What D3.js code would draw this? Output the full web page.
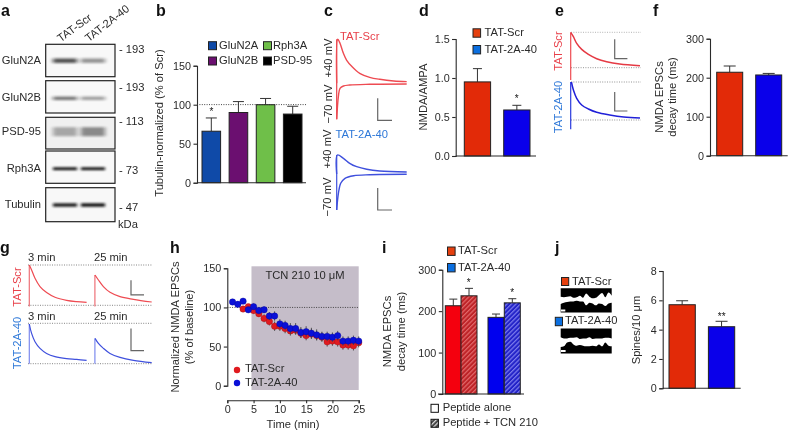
<!DOCTYPE html>
<html>
<head>
<meta charset="utf-8">
<script src="https://cdn.jsdelivr.net/npm/d3@7/dist/d3.min.js"></script>
<style>
html, body { margin: 0; padding: 0; background: #fff; }
svg { display: block; filter: blur(0.3px); }
text { font-family: "Liberation Sans", Arial, sans-serif; fill: #2a2a2a; font-size: 11.2px; }
.letter { font-weight: bold; font-size: 16px; fill: #111; }
.axis path, .axis line { stroke: #2a2a2a; stroke-width: 1.1; shape-rendering: auto; }
.axis text { font-size: 10.8px; fill: #2a2a2a; }
</style>
</head>
<body>
<svg id="fig" width="788" height="432"></svg>
<script>
// panel a
var blotRows = ["GluN2A", "GluN2B", "PSD-95", "Rph3A", "Tubulin"];
var blotMarkers = ["193", "193", "113", "73", "47"];
var blotLanes = ["TAT-Scr", "TAT-2A-40"];
var bandDarkness = [[0.7, 0.42], [0.55, 0.38], [0.32, 0.45], [1, 1], [0.95, 1]];
// panel b
var bCats = ["GluN2A", "GluN2B", "Rph3A", "PSD-95"];
var bValues = [66, 90, 100, 88];
var bErrTop = [83, 104, 108, 98];
var bTicks = [0, 50, 100, 150];
// panel d
var groups = ["TAT-Scr", "TAT-2A-40"];
var dValues = [0.95, 0.59];
var dErrTop = [1.12, 0.65];
var dTicks = [0, 0.5, 1.0, 1.5];
// panel f
var fValues = [214, 207];
var fErrTop = [230, 211];
var fTicks = [0, 100, 200, 300];
// panel c traces (time, amplitude)
var cUpTime = [0, 1, 3.3, 6.7, 10, 15, 23, 33, 43, 57, 70];
var cScrUp = [0, 44, 40, 30, 23, 17, 10, 6, 4, 2.3, 1.7];
var cDownTime = [0, 1.7, 3.3, 6.7, 13, 33, 70];
var cScrDown = [-36, -13, -5, -2.7, -1.7, -1, -0.7];
var cBlueUpTime = [0, 0.7, 6.7, 13, 20, 30, 43, 70];
var cBlueUp = [0, 19, 15.7, 10.7, 7.3, 4.7, 3, 2];
var cBlueDownTime = [0, 1.7, 4, 8.3, 17, 33, 70];
var cBlueDown = [-36, -19.3, -9.3, -4.3, -1.7, -0.7, -0.3];
// panel e traces
var eScrTime = [0, 2.7, 6, 11, 17.7, 26, 36, 49, 69.3];
var eScr = [35.3, 31, 24.3, 18.3, 13.3, 9, 6, 3.7, 2];
var eBlueTime = [0.7, 2.7, 6, 11, 17.7, 26, 39, 53, 69.3];
var eBlue = [38, 30, 21.7, 15, 11, 7.7, 5, 3, 2];
// panel g traces
var g3Time = [0, 2.3, 5.7, 10.7, 17.3, 25.7, 37.3, 47.3, 57.3];
var g25Time = [0.3, 3.7, 8.7, 15.3, 25.3, 38.7, 57];
var gScr3 = [40.3, 35.3, 27, 18.7, 12.7, 8, 5, 3.7, 3];
var gScr25 = [30.3, 25.3, 18.7, 13, 8.7, 6, 3.3];
var gBlue3 = [39.7, 30.3, 22, 15.3, 10.3, 7, 5, 4.3, 3.3];
var gBlue25 = [25.3, 20.3, 15.3, 10.3, 6.3, 3.3, 1];
// panel h
var hTimeScr = [3, 4, 5, 6, 7, 8, 9, 10, 11, 12, 13, 14, 15, 16, 17, 18, 19, 20, 21, 22, 23, 24, 25];
var hScr = [98, 101, 96, 92, 86, 82, 76, 76, 73, 70, 71, 67, 64, 66, 64, 62, 56, 57, 56, 52, 52, 51, 55];
var hScrErr = [3, 3, 4, 4, 5, 5, 6, 6, 6, 6, 6, 6, 6, 6, 6, 6, 6, 6, 6, 6, 6, 6, 6];
var hTimeBlue = [1, 2, 3, 4, 5, 6, 7, 8, 9, 10, 11, 12, 13, 14, 15, 16, 17, 18, 19, 20, 21, 22, 23, 24, 25];
var hBlue = [107, 104, 108, 97, 101, 96, 97, 89, 89, 79, 77, 73, 73, 68, 69, 67, 65, 63, 63, 62, 64, 57, 57, 58, 57];
var hBlueErr = [2, 3, 2, 3, 4, 4, 4, 5, 6, 6, 6, 7, 7, 7, 7, 7, 7, 6, 6, 6, 6, 6, 6, 6, 6];
var hYTicks = [0, 50, 100, 150];
var hXTicks = [0, 5, 10, 15, 20, 25];
// panel i
var iCats = ["Scr alone", "Scr TCN", "2A alone", "2A TCN"];
var iValues = [213, 237, 185, 220];
var iErrTop = [229, 255, 193, 230];
var iTicks = [0, 100, 200, 300];
// panel j
var jValues = [5.7, 4.2];
var jErrTop = [5.97, 4.57];
var jTicks = [0, 2, 4, 6, 8];
var spinePos = [0, 1, 2, 3, 4, 5, 6, 7, 8, 9, 10, 11, 12, 13, 14, 15, 16];
var strip1Low = [0.8, 0.85, 0.8, 0.75, 0.9, 0.85, 0.7, 0.9, 0.5, 0.8, 0.95, 0.9, 0.65, 0.45, 0.85, 0.4, 0.7];
var strip2Top = [0.35, 0.25, 0.2, 0.15, 0.15, 0.1, 0.15, 0.15, 0.45, 0.25, 0.3, 0.45, 0.3, 0.35, 0.5, 0.3, 0.25];
var strip3Low = [0.8, 0.9, 0.9, 0.85, 0.85, 0.8, 0.95, 0.9, 0.9, 0.8, 0.95, 0.9, 0.9, 0.9, 0.85, 0.85, 0.9];
var strip4Top = [0.5, 0.45, 0.15, 0.1, 0.3, 0.4, 0.35, 0.4, 0.45, 0.45, 0.4, 0.45, 0.3, 0.45, 0.15, 0.4, 0.45];

var RED = "#e22a08", BLUE = "#0a00ea", DARK = "#2a2a2a";
var TRED = "#ee4b52", TBLUE = "#3f50dd", LRED = "#e8404a", LBLUE = "#2e78d8";
var SWRED = "#e5400f", SWBLUE = "#0b6fe0";

var svg = d3.select("#fig");
var defs = svg.append("defs");
defs.append("filter").attr("id", "soft").attr("x", "-30%").attr("y", "-200%").attr("width", "160%").attr("height", "500%")
	.append("feGaussianBlur").attr("stdDeviation", "2 1.3");
defs.append("filter").attr("id", "sharp").attr("x", "-30%").attr("y", "-200%").attr("width", "160%").attr("height", "500%")
	.append("feGaussianBlur").attr("stdDeviation", "1.6 0.8");
defs.append("filter").attr("id", "tiny").append("feGaussianBlur").attr("stdDeviation", 0.35);

function hatch(id, bg, fg) {
	var p = defs.append("pattern").attr("id", id).attr("width", 3.2).attr("height", 3.2)
		.attr("patternUnits", "userSpaceOnUse").attr("patternTransform", "rotate(45)");
	p.append("rect").attr("width", 3.2).attr("height", 3.2).attr("fill", bg);
	p.append("rect").attr("width", 1.2).attr("height", 3.2).attr("fill", fg);
}
hatch("hatchRed", "#bd2226", "#e2686a");
hatch("hatchBlue", "#2222c8", "#7c7cec");
hatch("hatchGrey", "#444", "#ddd");

function label(x, y, str, opts) {
	opts = opts || {};
	var t = svg.append("text").attr("x", x).attr("y", y).text(str)
		.attr("dominant-baseline", "middle")
		.attr("text-anchor", opts.anchor || "start");
	if (opts.color) t.style("fill", opts.color);
	if (opts.size) t.style("font-size", opts.size + "px");
	if (opts.rotate != null) t.attr("transform", "rotate(" + opts.rotate + " " + x + " " + y + ")");
	return t;
}
function vlabel(x, y, str, opts) {
	opts = opts || {};
	opts.anchor = "middle";
	opts.rotate = -90;
	return label(x, y, str, opts);
}
function swatch(x, y, w, h, fill, stroke) {
	svg.append("rect").attr("x", x).attr("y", y).attr("width", w).attr("height", h)
		.attr("fill", fill).attr("stroke", stroke || "#222").attr("stroke-width", 1);
}

// one bar chart: ticks, bars, error caps, baseline
function barChart(o) {
	var y = d3.scaleLinear().domain(o.domain).range([o.y0, o.y1]);
	var step = (o.barsEnd - o.barsStart - o.barW) / (o.cats.length - 1);
	var x = d3.scaleBand().domain(o.cats).range([o.barsStart, o.barsEnd])
		.paddingInner(1 - o.barW / step).paddingOuter(0);
	var g = svg.append("g");
	var rows = o.cats.map(function(c, i) { return { c: c, v: o.values[i], e: o.err[i], f: o.fills[i] }; });
	g.selectAll("line.stem").data(rows).enter().append("line")
		.attr("x1", function(d) { return x(d.c) + x.bandwidth() / 2; })
		.attr("x2", function(d) { return x(d.c) + x.bandwidth() / 2; })
		.attr("y1", function(d) { return y(d.v); })
		.attr("y2", function(d) { return y(d.e); })
		.attr("stroke", "#333").attr("stroke-width", 1);
	g.selectAll("line.cap").data(rows).enter().append("line")
		.attr("x1", function(d) { return x(d.c) + x.bandwidth() / 2 - o.cap; })
		.attr("x2", function(d) { return x(d.c) + x.bandwidth() / 2 + o.cap; })
		.attr("y1", function(d) { return y(d.e); })
		.attr("y2", function(d) { return y(d.e); })
		.attr("stroke", "#333").attr("stroke-width", 1);
	g.selectAll("rect").data(rows).enter().append("rect")
		.attr("x", function(d) { return x(d.c); })
		.attr("width", x.bandwidth())
		.attr("y", function(d) { return y(d.v); })
		.attr("height", function(d) { return o.y0 - y(d.v); })
		.attr("fill", function(d) { return d.f; })
		.attr("stroke", "#222").attr("stroke-width", 1);
	var axis = d3.axisLeft(y).tickValues(o.ticks).tickSize(3.5).tickPadding(2.5);
	if (o.format) axis.tickFormat(o.format);
	svg.append("g").attr("class", "axis").attr("transform", "translate(" + o.axisX + ",0)").call(axis);
	svg.append("line").attr("x1", o.axisX).attr("x2", o.axisEnd).attr("y1", o.y0).attr("y2", o.y0)
		.attr("stroke", DARK).attr("stroke-width", 1.1);
	return { x: x, y: y };
}

function star(x, y, s) {
	var t = label(x, y, s || "*", { anchor: "middle", size: 10 });
	t.style("fill", "#111");
}

// electrophysiology trace with its stimulus artefact
var traceLine = d3.line().curve(d3.curveCatmullRom.alpha(0.5));
function trace(xs, ys, time, vals, color, w) {
	svg.append("path").datum(time.map(function(t, i) { return [xs(t), ys(vals[i])]; }))
		.attr("d", traceLine).attr("fill", "none").attr("stroke", color)
		.attr("stroke-width", w || 1.4).attr("stroke-linejoin", "round");
}
function stim(xs, ys, t, v0, v1, color) {
	svg.append("line").attr("x1", xs(t)).attr("x2", xs(t)).attr("y1", ys(v0)).attr("y2", ys(v1))
		.attr("stroke", color).attr("stroke-width", 1.2);
}
function scaleBar(xs, ys, t, v, w, h) {
	svg.append("path").attr("fill", "none").attr("stroke", "#666").attr("stroke-width", 1.2)
		.attr("d", "M" + xs(t) + "," + ys(v + h) + "V" + ys(v) + "H" + xs(t + w));
}
function dotted(x1, x2, y, col) {
	svg.append("line").attr("x1", x1).attr("x2", x2).attr("y1", y).attr("y2", y)
		.attr("stroke", col || "#888").attr("stroke-width", 0.9).attr("stroke-dasharray", "1 1.4");
}
function tracePos(x0, base) {
	return {
		x: d3.scaleLinear().domain([0, 100]).range([x0, x0 + 100]),
		y: d3.scaleLinear().domain([0, 100]).range([base, base - 100])
	};
}

// letters
[["a", 1, 12], ["b", 156, 12], ["c", 324, 12], ["d", 419, 12], ["e", 555, 12], ["f", 653, 12],
 ["g", 0, 249], ["h", 170, 249], ["i", 382, 249], ["j", 555, 249]].forEach(function(l) {
	label(l[1], l[2], l[0]).attr("class", "letter");
});

// ---- a: blots
var boxTop = [44.3, 80.7, 117.3, 151, 187.7];
var boxBot = [76.7, 113, 149, 183.3, 221.7];
var bandY = [60.7, 98.3, 131.7, 168.7, 205];
var bandH = [4.5, 3.5, 9, 2.8, 3.4];
var markY = [50, 88, 121.7, 170.7, 208];
var labelX = d3.scaleBand().domain(blotLanes).range([53, 105]).paddingInner(0.14);
blotRows.forEach(function(r, i) {
	svg.append("rect").attr("x", 45.7).attr("y", boxTop[i]).attr("width", 69.3).attr("height", boxBot[i] - boxTop[i])
		.attr("fill", i == 2 ? "#f0f0f0" : "#f8f8f8");
	var clip = svg.append("g");
	blotLanes.forEach(function(l, j) {
		clip.append("rect").attr("x", labelX(l)).attr("width", labelX.bandwidth())
			.attr("y", bandY[i] - bandH[i] / 2).attr("height", bandH[i])
			.attr("fill", "#111").attr("opacity", bandDarkness[i][j])
			.attr("filter", i > 2 ? "url(#sharp)" : "url(#soft)");
	});
	svg.append("rect").attr("x", 45.7).attr("y", boxTop[i]).attr("width", 69.3).attr("height", boxBot[i] - boxTop[i])
		.attr("fill", "none").attr("stroke", "#222").attr("stroke-width", 1.2);
	label(41, bandY[i], r, { anchor: "end" });
	label(119, markY[i], "- " + blotMarkers[i]);
});
label(118, 225.5, "kDa");
label(59, 40, blotLanes[0], { rotate: -36 });
label(87, 40, blotLanes[1], { rotate: -38 });

// ---- b
barChart({ cats: bCats, values: bValues, err: bErrTop, fills: ["#0f4aa8", "#6b0f70", "#6fbf49", "#000"],
	domain: [0, 150], y0: 182.7, y1: 65.7, barsStart: 202, barsEnd: 302, barW: 18.6, cap: 5.5,
	axisX: 197, axisEnd: 306, ticks: bTicks });
dotted(197, 306, 104.6, "#333");
star(211.5, 112.5);
vlabel(160, 123, "Tubulin-normalized (% of Scr)");
swatch(208.5, 41.7, 8, 8, "#0f4aa8");
swatch(208.5, 57, 8, 8, "#6b0f70");
swatch(263.5, 41.7, 8, 8, "#6fbf49");
swatch(263.5, 57, 8, 8, "#000");
label(219, 45.8, "GluN2A");
label(219, 61, "GluN2B");
label(273, 45.8, "Rph3A");
label(273, 61, "PSD-95");

// ---- c
var cS = tracePos(336.7, 83.3), cB = tracePos(336.7, 174);
stim(cS.x, cS.y, 0, -36, 44, LRED);
trace(cS.x, cS.y, cUpTime, cScrUp, TRED);
trace(cS.x, cS.y, cDownTime, cScrDown, TRED);
stim(cB.x, cB.y, 0, -36, 19, TBLUE);
trace(cB.x, cB.y, cBlueUpTime, cBlueUp, TBLUE);
trace(cB.x, cB.y, cBlueDownTime, cBlueDown, TBLUE);
scaleBar(cS.x, cS.y, 41, -37, 14.3, 22);
scaleBar(cB.x, cB.y, 41, -36, 14.3, 22);
label(340, 37, "TAT-Scr", { color: LRED });
label(335.5, 135, "TAT-2A-40", { color: LBLUE });
vlabel(329, 58, "+40 mV");
vlabel(329, 104, "\u221270 mV");
vlabel(328, 149, "+40 mV");
vlabel(328, 197, "\u221270 mV");

// ---- d
barChart({ cats: groups, values: dValues, err: dErrTop, fills: [RED, BLUE],
	domain: [0, 1.5], y0: 156, y1: 39, barsStart: 464.3, barsEnd: 530, barW: 26.3, cap: 4.5,
	axisX: 455.7, axisEnd: 536, ticks: dTicks, format: d3.format(".1f") }).x;
star(516.8, 99.5);
vlabel(424, 97, "NMDA/AMPA");
swatch(473, 28.8, 7.6, 8.4, SWRED);
swatch(473, 45.5, 7.6, 8.4, SWBLUE);
label(484.5, 33.3, groups[0]);
label(484.5, 50, groups[1]);

// ---- e
var eS = tracePos(570.7, 67.7), eB = tracePos(570.7, 120);
dotted(571, 641, 32.3, "#aaa");
dotted(571, 641, 67.7, "#888");
dotted(571, 641, 82, "#888");
dotted(571, 641, 120, "#888");
stim(eS.x, eS.y, 0, -12.3, 35.3, TRED);
trace(eS.x, eS.y, eScrTime, eScr, "#e53a44", 1.5);
stim(eB.x, eB.y, 0, -9.3, 38, "#2a3add");
trace(eB.x, eB.y, eBlueTime, eBlue, "#2020d8", 1.5);
scaleBar(eS.x, eS.y, 44, 9, 12.7, 19.5);
scaleBar(eB.x, eB.y, 44, 9, 12.7, 19);
vlabel(559, 51, "TAT-Scr", { color: LRED });
vlabel(559, 107, "TAT-2A-40", { color: LBLUE });

// ---- f
barChart({ cats: groups, values: fValues, err: fErrTop, fills: [RED, BLUE],
	domain: [0, 300], y0: 155.7, y1: 38.7, barsStart: 716.7, barsEnd: 781.7, barW: 26, cap: 6,
	axisX: 710, axisEnd: 787.7, ticks: fTicks });
vlabel(660, 97, "NMDA EPSCs");
vlabel(673, 97, "decay time (ms)");

// ---- g
var gS3 = tracePos(29.3, 305.3), gS25 = tracePos(94.7, 305.3);
var gB3 = tracePos(29.3, 363.7), gB25 = tracePos(94.7, 363.7);
dotted(28, 152, 265, "#777");
dotted(28, 152, 305.3, "#777");
dotted(28, 152, 323.3, "#777");
dotted(28, 152, 363.7, "#777");
stim(gS3.x, gS3.y, 0, -1.3, 40.3, "#ee7178");
trace(gS3.x, gS3.y, g3Time, gScr3, TRED, 1.2);
stim(gS25.x, gS25.y, 0.2, -1.3, 30.3, "#ee7178");
trace(gS25.x, gS25.y, g25Time, gScr25, TRED, 1.2);
stim(gB3.x, gB3.y, 0, 0, 39.7, "#7d8aee");
trace(gB3.x, gB3.y, g3Time, gBlue3, TBLUE, 1.2);
stim(gB25.x, gB25.y, 0.2, 0, 25.3, "#7d8aee");
trace(gB25.x, gB25.y, g25Time, gBlue25, TBLUE, 1.2);
scaleBar(gS25.x, gS25.y, 36.3, 10.5, 13, 14.5);
scaleBar(gB25.x, gB25.y, 36.3, 13, 13, 22.3);
label(28, 258.5, "3 min");
label(94, 258.5, "25 min");
label(28, 317, "3 min");
label(94, 317, "25 min");
vlabel(18.5, 287, "TAT-Scr", { color: LRED });
vlabel(18.5, 343, "TAT-2A-40", { color: LBLUE });

// ---- h
var hx = d3.scaleLinear().domain([0, 25]).range([227.3, 358.7]);
var hy = d3.scaleLinear().domain([0, 150]).range([385.7, 268.3]);
svg.append("rect").attr("x", hx(4.6)).attr("width", hx(25) - hx(4.6))
	.attr("y", 266.3).attr("height", 123.7).attr("fill", "#c5bdc9");
dotted(hx(0), hx(25), hy(100), "#333");
function hSeries(time, vals, errs, col, edge) {
	var rows = time.map(function(t, i) { return { t: t, v: vals[i], e: errs[i] }; });
	var g = svg.append("g");
	g.selectAll("line").data(rows).enter().append("line")
		.attr("x1", function(d) { return hx(d.t); }).attr("x2", function(d) { return hx(d.t); })
		.attr("y1", function(d) { return hy(d.v - d.e); }).attr("y2", function(d) { return hy(d.v + d.e); })
		.attr("stroke", "#444").attr("stroke-width", 0.9);
	g.selectAll("circle").data(rows).enter().append("circle")
		.attr("cx", function(d) { return hx(d.t); }).attr("cy", function(d) { return hy(d.v); })
		.attr("r", 3.2).attr("fill", col).attr("stroke", edge).attr("stroke-width", 0.4);
}
hSeries(hTimeScr, hScr, hScrErr, "#e01a1f", "#a01015");
hSeries(hTimeBlue, hBlue, hBlueErr, "#0a10d8", "#08089a");
svg.append("g").attr("class", "axis").attr("transform", "translate(227.3,0)")
	.call(d3.axisLeft(hy).tickValues(hYTicks).tickSize(3.5).tickPadding(2.5));
svg.append("g").attr("class", "axis").attr("transform", "translate(0,400.3)")
	.call(d3.axisBottom(hx).tickValues(hXTicks).tickSize(3).tickPadding(2.5));
label(305, 276, "TCN 210 10 \u03bcM", { anchor: "middle" });
vlabel(176, 327, "Normalized NMDA EPSCs");
vlabel(190, 327, "(% of baseline)");
svg.append("circle").attr("cx", 237).attr("cy", 370).attr("r", 3.2).attr("fill", "#e01a1f");
svg.append("circle").attr("cx", 237).attr("cy", 383).attr("r", 3.2).attr("fill", "#0a10d8");
label(245, 369.5, groups[0]);
label(245, 383, groups[1]);
label(293, 425.5, "Time (min)", { anchor: "middle" });

// ---- i: two pairs with a gap in the middle
var iy = d3.scaleLinear().domain([0, 300]).range([394, 269.7]);
var ix = { "Scr alone": 445.3, "Scr TCN": 461, "2A alone": 488, "2A TCN": 504.3 };
var iFill = ["#f4000e", "url(#hatchRed)", "#0000ee", "url(#hatchBlue)"];
var iW = 16;
var iRows = iCats.map(function(c, k) { return { c: c, v: iValues[k], e: iErrTop[k], f: iFill[k] }; });
var ig = svg.append("g");
ig.selectAll("line.stem").data(iRows).enter().append("line")
	.attr("x1", function(d) { return ix[d.c] + iW / 2; }).attr("x2", function(d) { return ix[d.c] + iW / 2; })
	.attr("y1", function(d) { return iy(d.v); }).attr("y2", function(d) { return iy(d.e); })
	.attr("stroke", "#333");
ig.selectAll("line.cap").data(iRows).enter().append("line")
	.attr("x1", function(d) { return ix[d.c] + iW / 2 - 4; }).attr("x2", function(d) { return ix[d.c] + iW / 2 + 4; })
	.attr("y1", function(d) { return iy(d.e); }).attr("y2", function(d) { return iy(d.e); })
	.attr("stroke", "#333");
ig.selectAll("rect").data(iRows).enter().append("rect")
	.attr("x", function(d) { return ix[d.c]; }).attr("width", iW)
	.attr("y", function(d) { return iy(d.v); }).attr("height", function(d) { return 394 - iy(d.v); })
	.attr("fill", function(d) { return d.f; }).attr("stroke", "#222");
svg.append("g").attr("class", "axis").attr("transform", "translate(442.3,0)")
	.call(d3.axisLeft(iy).tickValues(iTicks).tickSize(3.5).tickPadding(2.5));
svg.append("line").attr("x1", 438).attr("x2", 524).attr("y1", 394).attr("y2", 394).attr("stroke", DARK).attr("stroke-width", 1.1);
star(468.7, 283);
star(512.3, 293.5);
vlabel(388, 331.5, "NMDA EPSCs");
vlabel(402, 331.5, "decay time (ms)");
swatch(447.5, 247, 7.6, 8.4, SWRED);
swatch(447.5, 263.5, 7.6, 8.4, SWBLUE);
label(458, 251.5, groups[0]);
label(458, 268, groups[1]);
swatch(431, 404.3, 7.4, 8, "#fff", "#111");
swatch(431, 419.3, 7.4, 8, "url(#hatchGrey)", "#111");
label(442.7, 408.5, "Peptide alone");
label(442.7, 423, "Peptide + TCN 210");

// ---- j
function strip(y0, h, top, low) {
	var sx = d3.scaleLinear().domain([0, 16]).range([560.7, 611.7]);
	var sy = d3.scaleLinear().domain([0, 1]).range([y0, y0 + h]);
	var area = d3.area().curve(d3.curveMonotoneX)
		.x(function(d) { return sx(d); })
		.y0(function(d, i) { return sy(top ? top[i] : 0); })
		.y1(function(d, i) { return sy(low ? low[i] : 1); });
	svg.append("path").datum(spinePos).attr("d", area).attr("fill", "#050505").attr("filter", "url(#tiny)");
}
strip(288.3, 10.5, null, strip1Low);
strip(299.5, 13, strip2Top, null);
strip(328.5, 11, null, strip3Low);
strip(340.5, 13, strip4Top, null);
svg.append("rect").attr("x", 561).attr("y", 309.5).attr("width", 4.3).attr("height", 2).attr("fill", "#fff");
svg.append("rect").attr("x", 561).attr("y", 350).attr("width", 4.6).attr("height", 2).attr("fill", "#fff");
swatch(561.5, 277.5, 7.2, 8, SWRED);
swatch(555.3, 317.3, 7.2, 8.4, SWBLUE);
label(572, 281.7, groups[0]);
label(565, 321.3, groups[1]);
barChart({ cats: groups, values: jValues, err: jErrTop, fills: [RED, BLUE],
	domain: [0, 8], y0: 388.3, y1: 271, barsStart: 669, barsEnd: 734.7, barW: 26.3, cap: 6,
	axisX: 662.7, axisEnd: 740.7, ticks: jTicks });
star(721.7, 317, "**");
vlabel(636.7, 330, "Spines/10 \u03bcm");
</script>
</body>
</html>
